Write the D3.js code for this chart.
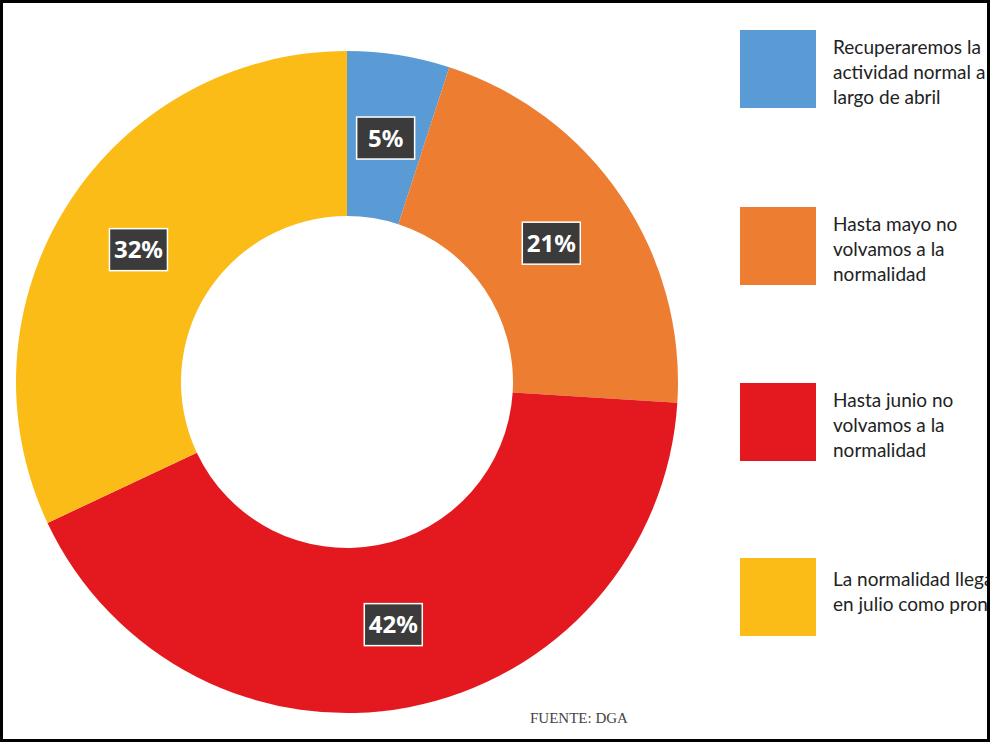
<!DOCTYPE html>
<html><head><meta charset="utf-8">
<script src="https://cdn.jsdelivr.net/npm/d3@7"></script>
<style>
body{margin:0;background:#fff;overflow:hidden}
svg{display:block}
</style></head>
<body><svg id="chart" width="990" height="742"></svg>
<script>
// data
var categories = [
  ["Recuperaremos la", "actividad normal a lo", "largo de abril"],
  ["Hasta mayo no", "volvamos a la", "normalidad"],
  ["Hasta junio no", "volvamos a la", "normalidad"],
  ["La normalidad llegará", "en julio como pronto"]
];
var values = [5, 21, 42, 32];
var colors = ["#5b9bd5", "#ed7d31", "#e3191f", "#fbbc18"];

var svg = d3.select("#chart");
var cx = 347, cy = 382, outerR = 331, innerR = 166;

var pie = d3.pie().sort(null).value(function(d) { return d; });
var arc = d3.arc().innerRadius(innerR).outerRadius(outerR);
var labelArc = d3.arc().innerRadius(247).outerRadius(247);

var g = svg.append("g").attr("transform", "translate(" + cx + "," + cy + ")");

g.selectAll("path")
  .data(pie(values))
  .enter().append("path")
  .attr("d", arc)
  .attr("fill", function(d, i) { return colors[i]; });

var lab = g.selectAll(".lab")
  .data(pie(values))
  .enter().append("g")
  .attr("class", "lab")
  .attr("transform", function(d) { return "translate(" + labelArc.centroid(d) + ")"; });

lab.append("rect")
  .attr("x", -29).attr("y", -21).attr("width", 58).attr("height", 42)
  .attr("fill", "#3b3b3b").attr("stroke", "#fff").attr("stroke-width", 1.5);

lab.append("text")
  .attr("text-anchor", "middle")
  .attr("dy", "0.36em")
  .attr("fill", "#fff")
  .style("font", "bold 24px 'Noto Sans', sans-serif")
  .text(function(d) { return d.data + "%"; });

// legend
var legTop = [30, 207, 383, 558];
var leg = svg.selectAll(".leg")
  .data(categories)
  .enter().append("g")
  .attr("class", "leg")
  .attr("transform", function(d, i) { return "translate(740," + legTop[i] + ")"; });

leg.append("rect")
  .attr("width", 76).attr("height", 78)
  .attr("fill", function(d, i) { return colors[i]; });

leg.each(function(d) {
  var t = d3.select(this).append("text")
    .attr("fill", "#222")
    .style("font", "19px Lato, 'Noto Sans', sans-serif");
  d.forEach(function(line, j) {
    t.append("tspan").attr("x", 93).attr("y", 28 + j * 25 - (d.length === 2 ? 0 : 4)).text(line);
  });
});

svg.append("text")
  .attr("x", 530).attr("y", 723)
  .attr("fill", "#444")
  .style("font", "15px 'Liberation Serif', serif")
  .text("FUENTE: DGA");

svg.append("rect")
  .attr("x", 1.5).attr("y", 1.5).attr("width", 987).attr("height", 739)
  .attr("fill", "none").attr("stroke", "#000").attr("stroke-width", 3);
</script>
</body></html>
